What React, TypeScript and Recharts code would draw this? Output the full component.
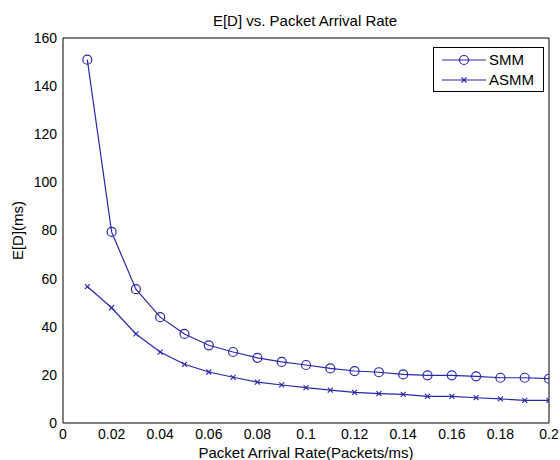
import { Label, Line, LineChart, XAxis, YAxis } from "recharts";

// packet arrival rate (packets/ms)
const rates = [0.01, 0.02, 0.03, 0.04, 0.05, 0.06, 0.07, 0.08, 0.09, 0.1, 0.11, 0.12, 0.13, 0.14, 0.15, 0.16, 0.17, 0.18, 0.19, 0.2];
// E[D] in ms
const smm = [151, 79.4, 55.6, 44, 37, 32.3, 29.5, 27.1, 25.4, 24.1, 22.7, 21.6, 21.1, 20.2, 19.8, 19.8, 19.4, 18.8, 18.8, 18.4];
const asmm = [56.7, 47.9, 37, 29.5, 24.4, 21.2, 19, 17, 15.8, 14.7, 13.7, 12.7, 12.2, 11.9, 11.1, 11.1, 10.5, 10, 9.4, 9.4];

const xTicks = [0, 0.02, 0.04, 0.06, 0.08, 0.1, 0.12, 0.14, 0.16, 0.18, 0.2];
const yTicks = [0, 20, 40, 60, 80, 100, 120, 140, 160];

const data = rates.map((r, i) => ({ rate: r, SMM: smm[i], ASMM: asmm[i] }));

const BLUE = "#2828aa";
const FONT = "Arial, 'Liberation Sans', Helvetica, sans-serif";

const Circle = (props: any) => {
  const { cx, cy } = props;
  if (cx == null || cy == null) return null;
  return <circle cx={cx} cy={cy} r={4.5} fill="none" stroke={BLUE} strokeWidth={1.2} />;
};

const Cross = (props: any) => {
  const { cx, cy } = props;
  if (cx == null || cy == null) return null;
  const s = 2.5;
  return (
    <path
      d={`M${cx - s},${cy - s}L${cx + s},${cy + s}M${cx - s},${cy + s}L${cx + s},${cy - s}`}
      stroke={BLUE}
      strokeWidth={1.1}
      fill="none"
    />
  );
};

// legend box drawn as in the matlab figure
const LegendBox = () => (
  <div
    style={{
      position: "absolute",
      left: 433,
      top: 47,
      width: 111,
      height: 45,
      border: "1px solid #000",
      background: "#fff",
      boxSizing: "border-box",
    }}
  >
    <svg width={109} height={43} style={{ display: "block" }}>
      <line x1={8} y1={12} x2={52} y2={12} stroke={BLUE} strokeWidth={1.2} />
      <circle cx={30} cy={12} r={4.5} fill="none" stroke={BLUE} strokeWidth={1.2} />
      <text x={55} y={17} fontSize={15} fill="#000" fontFamily={FONT}>SMM</text>
      <line x1={8} y1={32} x2={52} y2={32} stroke={BLUE} strokeWidth={1.2} />
      <path d="M27.5,29.5L32.5,34.5M27.5,34.5L32.5,29.5" stroke={BLUE} strokeWidth={1.1} />
      <text x={55} y={37} fontSize={15} fill="#000" fontFamily={FONT}>ASMM</text>
    </svg>
  </div>
);

export default function App() {
  return (
    <div style={{ position: "absolute", left: 0, top: 0, width: 560, height: 460, background: "#fff" }}>
      <LineChart
        width={560}
        height={460}
        data={data}
        margin={{ top: 38, right: 11, bottom: 7, left: 23 }}
      >
        <text x={305} y={22} textAnchor="middle" dominantBaseline="middle" fontSize={15} fontFamily={FONT} fill="#000">
          E[D] vs. Packet Arrival Rate
        </text>
        <XAxis
          dataKey="rate"
          type="number"
          domain={[0, 0.2]}
          ticks={xTicks}
          tickFormatter={(v) => String(v)}
          height={30}
          tickLine={false}
          tickSize={0}
          tickMargin={6}
          axisLine={{ stroke: "#000" }}
          tick={{ fill: "#000", fontSize: 14, fontFamily: FONT }}
          allowDataOverflow
        >
          <Label
            value="Packet Arrival Rate(Packets/ms)"
            position="center"
            dy={15}
            style={{ fill: "#000", fontSize: 15, fontFamily: FONT }}
          />
        </XAxis>
        <XAxis
          xAxisId="bm"
          dataKey="rate"
          type="number"
          domain={[0, 0.2]}
          ticks={xTicks}
          mirror
          tick={false}
          tickSize={5}
          axisLine={false}
          tickLine={{ stroke: "#000" }}
        />
        <XAxis
          xAxisId="top"
          orientation="top"
          dataKey="rate"
          type="number"
          domain={[0, 0.2]}
          ticks={xTicks}
          mirror
          tick={false}
          tickSize={5}
          axisLine={{ stroke: "#000" }}
          tickLine={{ stroke: "#000" }}
        />
        <YAxis
          type="number"
          domain={[0, 160]}
          ticks={yTicks}
          width={40}
          tickLine={false}
          tickSize={0}
          tickMargin={6}
          axisLine={{ stroke: "#000" }}
          tick={{ fill: "#000", fontSize: 14, fontFamily: FONT }}
        >
          <Label
            value="E[D](ms)"
            position="center"
            angle={-90}
            dx={-25}
            style={{ fill: "#000", fontSize: 15, fontFamily: FONT, textAnchor: "middle" }}
          />
        </YAxis>
        <YAxis
          yAxisId="lm"
          type="number"
          domain={[0, 160]}
          ticks={yTicks}
          mirror
          tick={false}
          tickSize={5}
          axisLine={false}
          tickLine={{ stroke: "#000" }}
        />
        <YAxis
          yAxisId="right"
          orientation="right"
          type="number"
          domain={[0, 160]}
          ticks={yTicks}
          mirror
          tick={false}
          tickSize={5}
          axisLine={{ stroke: "#000" }}
          tickLine={{ stroke: "#000" }}
        />
        <Line
          dataKey="SMM"
          type="linear"
          stroke={BLUE}
          strokeWidth={1.2}
          dot={<Circle />}
          activeDot={false}
          isAnimationActive={false}
        />
        <Line
          dataKey="ASMM"
          type="linear"
          stroke={BLUE}
          strokeWidth={1.2}
          dot={<Cross />}
          activeDot={false}
          isAnimationActive={false}
        />
      </LineChart>
      <LegendBox />
    </div>
  );
}
